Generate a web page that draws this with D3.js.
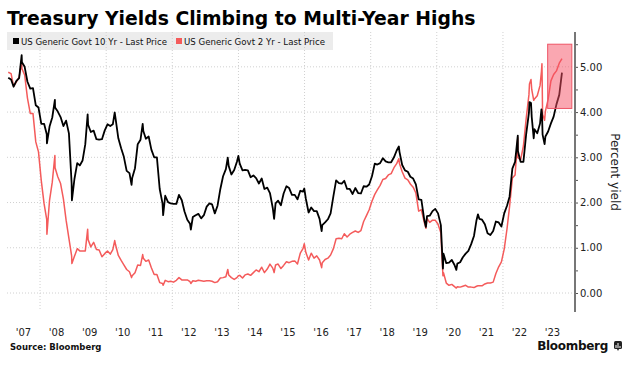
<!DOCTYPE html>
<html>
<head>
<meta charset="utf-8">
<script src="https://cdn.jsdelivr.net/npm/d3@7"></script>
<style>
  body { margin: 0; background: #fff; }
  svg { display: block; font-family: "DejaVu Sans", Verdana, sans-serif; }
</style>
</head>
<body>
<svg id="chart" width="639" height="367"></svg>
<script>
// Monthly yields (mid-month), Jan 2007 .. Oct 2023
const tenYear = [
  4.76, 4.72, 4.56, 4.69, 4.75, 5.10, 5.00, 4.67, 4.52, 4.53, 4.15, 4.10,
  3.74, 3.74, 3.51, 3.68, 3.88, 4.10, 4.01, 3.89, 3.69, 3.81, 3.53, 2.42,
  2.52, 2.87, 2.82, 2.93, 3.29, 3.72, 3.56, 3.59, 3.40, 3.39, 3.40, 3.59,
  3.73, 3.69, 3.73, 3.85, 3.42, 3.20, 3.01, 2.70, 2.65, 2.54, 2.76, 3.29,
  3.39, 3.58, 3.41, 3.46, 3.17, 3.00, 3.00, 2.30, 1.98, 2.15, 2.01, 1.98,
  1.97, 1.97, 2.17, 2.05, 1.80, 1.62, 1.53, 1.68, 1.72, 1.75, 1.65, 1.72,
  1.91, 1.98, 1.96, 1.76, 1.93, 2.30, 2.58, 2.74, 2.81, 2.62, 2.72, 2.90,
  2.86, 2.71, 2.72, 2.71, 2.56, 2.60, 2.54, 2.42, 2.53, 2.30, 2.33, 2.21,
  1.88, 1.98, 2.04, 1.94, 2.20, 2.36, 2.32, 2.17, 2.17, 2.07, 2.26, 2.24,
  2.09, 1.78, 1.89, 1.81, 1.81, 1.64, 1.50, 1.56, 1.63, 1.76, 2.14, 2.49,
  2.43, 2.42, 2.48, 2.30, 2.30, 2.19, 2.32, 2.21, 2.20, 2.36, 2.35, 2.40,
  2.58, 2.86, 2.84, 2.87, 2.98, 2.91, 2.89, 2.89, 3.00, 3.15, 3.12, 2.83,
  2.71, 2.68, 2.57, 2.53, 2.40, 2.07, 2.06, 1.63, 1.70, 1.71, 1.81, 1.86,
  1.76, 1.50, 0.87, 0.66, 0.67, 0.73, 0.62, 0.65, 0.68, 0.79, 0.87, 0.93,
  1.08, 1.26, 1.61, 1.64, 1.62, 1.52, 1.32, 1.28, 1.37, 1.58, 1.56, 1.47,
  1.76, 1.93, 2.13, 2.75, 2.90, 3.14, 2.90, 2.90, 3.52, 3.98, 3.89, 3.62,
  3.53, 3.75, 3.50, 3.46, 3.57, 3.75, 3.90, 4.17, 4.38, 4.87
];
const twoYear = [
  4.88, 4.85, 4.57, 4.67, 4.77, 4.96, 4.82, 4.31, 3.97, 3.97, 3.34, 3.12,
  2.48, 1.97, 1.62, 2.05, 2.45, 2.77, 2.57, 2.42, 2.08, 1.61, 1.21, 0.82,
  0.81, 0.98, 0.93, 0.93, 0.93, 1.18, 1.02, 1.12, 0.96, 0.95, 0.80, 0.87,
  0.93, 0.86, 0.96, 1.06, 0.83, 0.72, 0.62, 0.52, 0.47, 0.38, 0.45, 0.62,
  0.61, 0.77, 0.70, 0.73, 0.56, 0.41, 0.41, 0.23, 0.21, 0.28, 0.25, 0.26,
  0.24, 0.28, 0.34, 0.29, 0.29, 0.29, 0.25, 0.27, 0.26, 0.28, 0.27, 0.26,
  0.27, 0.27, 0.26, 0.23, 0.25, 0.33, 0.34, 0.36, 0.40, 0.34, 0.30, 0.34,
  0.39, 0.33, 0.40, 0.42, 0.39, 0.45, 0.51, 0.47, 0.57, 0.45, 0.53, 0.64,
  0.55, 0.62, 0.64, 0.54, 0.61, 0.69, 0.67, 0.70, 0.71, 0.64, 0.88, 0.98,
  0.90, 0.73, 0.88, 0.77, 0.82, 0.73, 0.67, 0.74, 0.77, 0.84, 0.98, 1.20,
  1.21, 1.20, 1.31, 1.24, 1.30, 1.34, 1.37, 1.34, 1.38, 1.58, 1.71, 1.84,
  2.03, 2.18, 2.28, 2.38, 2.51, 2.53, 2.61, 2.64, 2.77, 2.86, 2.86, 2.68,
  2.54, 2.50, 2.41, 2.34, 2.21, 1.81, 1.84, 1.57, 1.65, 1.56, 1.61, 1.61,
  1.52, 1.33, 0.45, 0.22, 0.17, 0.19, 0.14, 0.14, 0.13, 0.15, 0.17, 0.13,
  0.13, 0.12, 0.15, 0.16, 0.16, 0.20, 0.22, 0.22, 0.24, 0.43, 0.58, 0.69,
  0.97, 1.42, 1.91, 2.54, 2.61, 2.99, 2.94, 3.25, 3.86, 4.38, 4.50, 4.29,
  4.36, 4.59, 3.95, 4.02, 4.28, 4.69, 4.83, 4.91, 5.08, 5.18
];

// Daily highs/lows between the monthly readings
const spikeDates = [
  "2007-06-12", "2008-03-17", "2008-06-13", "2008-12-18", "2009-06-10",
  "2010-04-05", "2010-10-08", "2011-02-08", "2011-09-22", "2012-07-24",
  "2013-09-05", "2013-12-31", "2015-01-30", "2015-12-29", "2016-07-08",
  "2018-11-08", "2019-09-03", "2020-03-09", "2020-08-04", "2021-03-31",
  "2022-06-14", "2022-10-21", "2022-11-07", "2022-12-07", "2023-03-02",
  "2023-03-08", "2023-04-06"
];
const spikeTen = [
  5.26, 3.31, 4.27, 2.05, 3.95, 3.99, 2.39, 3.74, 1.72, 1.40,
  2.99, 3.03, 1.64, 2.31, 1.37, 3.24, 1.46, 0.54, 0.51, 1.74,
  3.48, 4.22, 4.20, 3.42, 4.06, 3.98, 3.29
];
const spikeTwo = [
  5.10, 1.30, 3.04, 0.65, 1.41, 1.16, 0.34, 0.85, 0.17, 0.21,
  0.52, 0.38, 0.45, 1.09, 0.56, 2.97, 1.43, 0.38, 0.11, 0.16,
  3.43, 4.62, 4.72, 4.26, 4.89, 5.07, 3.82
];

const yTicks = [0, 1, 2, 3, 4, 5];
const yearLabels = ["'07", "'08", "'09", "'10", "'11", "'12", "'13", "'14", "'15",
  "'16", "'17", "'18", "'19", "'20", "'21", "'22", "'23"];
const seriesNames = ["US Generic Govt 10 Yr - Last Price", "US Generic Govt 2 Yr - Last Price"];
const seriesColors = ["#000000", "#f45b5b"];

// highlighted region (dates / percent)
const highlightStart = "2023-05-10";
const highlightEnd = "2024-02-01";
const highlightLow = 4.08;
const highlightHigh = 5.5;

const parse = d3.utcParse("%Y-%m-%d");
const months = d3.utcMonth.range(new Date(Date.UTC(2007, 0, 1)), new Date(Date.UTC(2023, 10, 1)))
  .map((m) => d3.utcDay.offset(m, 14));

const tenData = d3.sort(
  months.map((d, i) => ({ date: d, v: tenYear[i] }))
    .concat(spikeDates.map((s, i) => ({ date: parse(s), v: spikeTen[i] }))),
  (d) => d.date);
const twoData = d3.sort(
  months.map((d, i) => ({ date: d, v: twoYear[i] }))
    .concat(spikeDates.map((s, i) => ({ date: parse(s), v: spikeTwo[i] }))),
  (d) => d.date);

const svg = d3.select("#chart");
const plot = { left: 7, right: 575, top: 32, bottom: 312 };

const x = d3.scaleUtc()
  .domain([new Date(Date.UTC(2007, 0, 1)), new Date(Date.UTC(2024, 2, 7))])
  .range([plot.left, plot.right]);
const y = d3.scaleLinear()
  .domain([-0.42, 5.77])
  .range([plot.bottom, plot.top]);

// title
svg.append("text")
  .attr("x", 7).attr("y", 25)
  .attr("font-size", 18.8).attr("font-weight", "bold")
  .attr("fill", "#000")
  .text("Treasury Yields Climbing to Multi-Year Highs");

// legend background
svg.append("rect")
  .attr("x", 7).attr("y", 32).attr("width", 326).attr("height", 18)
  .attr("fill", "#ececec");

// grid
svg.append("g").selectAll("line")
  .data(yTicks)
  .join("line")
  .attr("x1", plot.left).attr("x2", plot.right)
  .attr("y1", (d) => y(d)).attr("y2", (d) => y(d))
  .attr("stroke", "#d0d0d0").attr("stroke-dasharray", "1,2");

const gridYears = d3.range(2008, 2023, 2).map((yr) => new Date(Date.UTC(yr, 0, 1)));
svg.append("g").selectAll("line")
  .data(gridYears)
  .join("line")
  .attr("x1", (d) => x(d)).attr("x2", (d) => x(d))
  .attr("y1", plot.top).attr("y2", 310)
  .attr("stroke", "#d0d0d0").attr("stroke-dasharray", "1,2");

// legend entries
const legendX = [13, 176];
const legend = svg.append("g");
seriesNames.forEach((name, i) => {
  legend.append("rect")
    .attr("x", legendX[i]).attr("y", 38).attr("width", 6).attr("height", 6)
    .attr("fill", seriesColors[i]);
  legend.append("text")
    .attr("x", legendX[i] + 8).attr("y", 45)
    .attr("font-size", 9.5).attr("fill", "#111")
    .attr("textLength", i === 0 ? 146 : 141)
    .attr("lengthAdjust", "spacingAndGlyphs")
    .text(name);
});

// lines
const line = d3.line().x((d) => x(d.date)).y((d) => y(d.v));
svg.append("path").datum(twoData)
  .attr("fill", "none").attr("stroke", seriesColors[1])
  .attr("stroke-width", 1.5).attr("stroke-linejoin", "round")
  .attr("d", line);
svg.append("path").datum(tenData)
  .attr("fill", "none").attr("stroke", seriesColors[0])
  .attr("stroke-width", 1.8).attr("stroke-linejoin", "round")
  .attr("d", line);

// highlight box
svg.append("rect")
  .attr("x", x(parse(highlightStart)))
  .attr("y", y(highlightHigh))
  .attr("width", x(parse(highlightEnd)) - x(parse(highlightStart)))
  .attr("height", y(highlightLow) - y(highlightHigh))
  .attr("fill", "rgba(245, 80, 100, 0.5)")
  .attr("stroke", "#ee5566").attr("stroke-width", 1);

// right axis
const yAxis = d3.axisRight(y)
  .tickValues(d3.range(-0.5, 6, 0.5))
  .tickSize(3)
  .tickFormat((d) => (yTicks.includes(d) ? d3.format(".2f")(d) : ""));
const ya = svg.append("g")
  .attr("transform", `translate(${plot.right},0)`)
  .call(yAxis);
ya.select(".domain").remove();
ya.selectAll(".tick line").attr("stroke", "#555");
ya.selectAll(".tick text")
  .attr("x", 5).attr("font-size", 10).attr("fill", "#222")
  .attr("font-family", "DejaVu Sans, Verdana, sans-serif");
ya.selectAll(".tick").filter((d) => d < -0.2 || d > 5.6).remove();
svg.append("line")
  .attr("x1", plot.right).attr("x2", plot.right)
  .attr("y1", plot.top).attr("y2", plot.bottom)
  .attr("stroke", "#777").attr("stroke-width", 2);

svg.append("text")
  .attr("transform", `translate(611,172) rotate(90)`)
  .attr("text-anchor", "middle")
  .attr("font-size", 12).attr("fill", "#222")
  .text("Percent yield");

// year labels
svg.append("g").selectAll("text")
  .data(yearLabels)
  .join("text")
  .attr("x", (d, i) => x(new Date(Date.UTC(2007 + i, 6, 2))))
  .attr("y", 336)
  .attr("text-anchor", "middle")
  .attr("font-size", 10).attr("fill", "#222")
  .text((d) => d);

// footer
svg.append("text")
  .attr("x", 10).attr("y", 350)
  .attr("font-size", 8.5).attr("font-weight", "bold").attr("fill", "#111")
  .text("Source: Bloomberg");
svg.append("text")
  .attr("x", 608).attr("y", 350)
  .attr("text-anchor", "end")
  .attr("font-size", 12).attr("font-weight", "bold").attr("fill", "#111")
  .attr("letter-spacing", -0.3)
  .text("Bloomberg");
const logo = svg.append("g").attr("transform", "translate(614,341)");
logo.append("rect").attr("width", 8).attr("height", 8).attr("rx", 1.5).attr("fill", "#222");
logo.append("path").attr("d", "M3,8 L4,10 L5,8 Z").attr("fill", "#222");
[[2, 4, 3], [4, 2, 5], [6, 5, 2]].forEach(([bx, by, bh]) =>
  logo.append("rect").attr("x", bx - 0.5).attr("y", by).attr("width", 1).attr("height", bh).attr("fill", "#fff"));
</script>
</body>
</html>
